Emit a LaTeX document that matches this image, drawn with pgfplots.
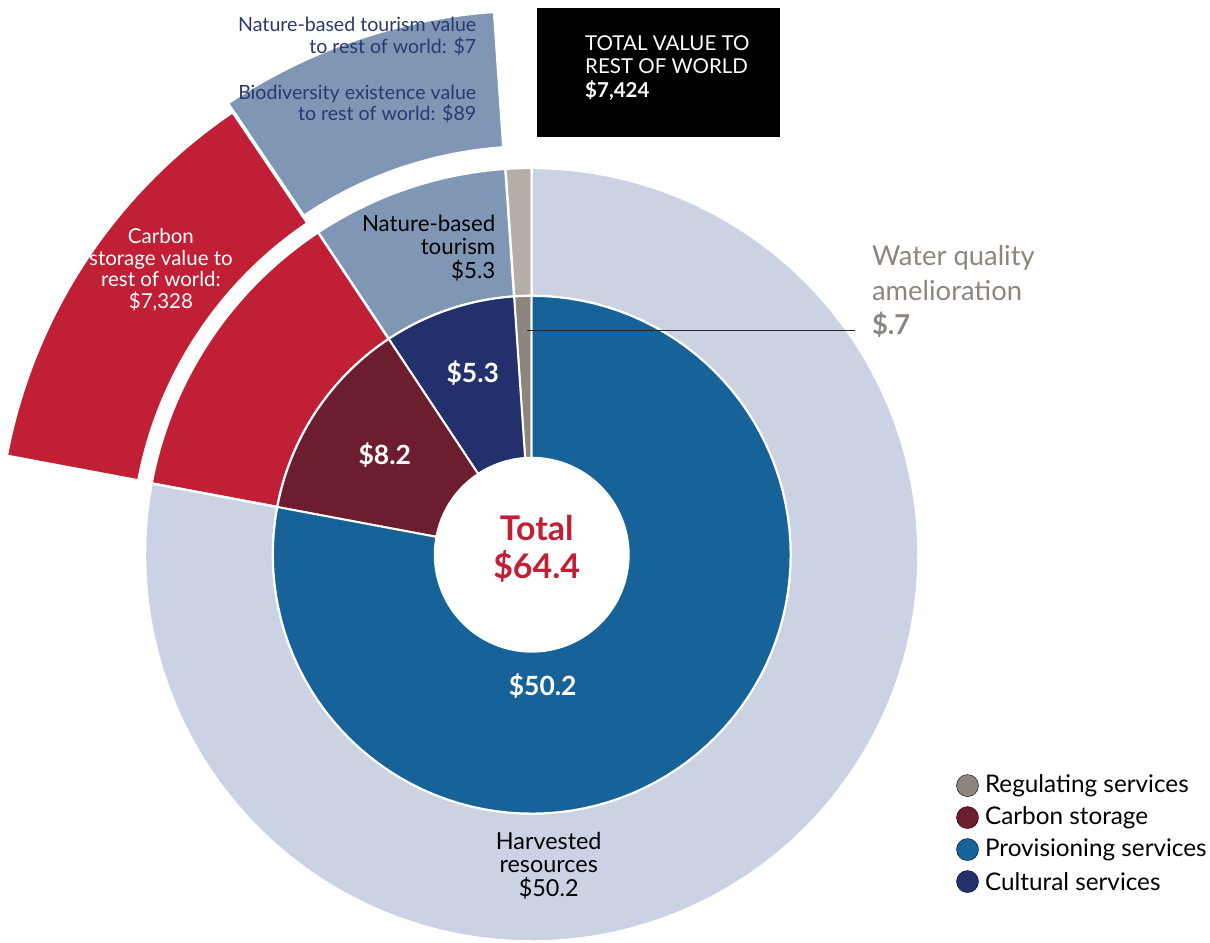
\documentclass[border=0pt]{standalone}
\usepackage{pgfplots}
\pgfplotsset{compat=1.18}
\usepackage{fontspec}
\setmainfont{Lato}
\definecolor{provB}{RGB}{23,98,153}
\definecolor{carbM}{RGB}{108,30,46}
\definecolor{cultN}{RGB}{35,48,107}
\definecolor{regG}{RGB}{140,134,127}
\definecolor{harvL}{RGB}{203,210,228}
\definecolor{carbR}{RGB}{193,31,53}
\definecolor{tourB}{RGB}{127,151,181}
\definecolor{regL}{RGB}{180,174,166}
\definecolor{labN}{RGB}{43,56,110}
% annular sector: #1 start angle, #2 end angle, #3 inner r, #4 outer r, #5 cx, #6 cy, #7 colour, #8 border
\newcommand{\sector}[8]{%
\addplot[fill=#7, draw=white, line width=#8, line join=round, domain=0:4, samples=401, variable=\t]
 ({#5+((\t<1) ? (#4) : ((\t<2) ? ((#4)-((#4)-(#3))*(\t-1)) : ((\t<3) ? (#3) : ((#3)+((#4)-(#3))*(\t-3)))))*cos((\t<1) ? ((#1)+((#2)-(#1))*\t) : ((\t<2) ? (#2) : ((\t<3) ? ((#2)-((#2)-(#1))*(\t-2)) : (#1))))},
  {#6-((\t<1) ? (#4) : ((\t<2) ? ((#4)-((#4)-(#3))*(\t-1)) : ((\t<3) ? (#3) : ((#3)+((#4)-(#3))*(\t-3)))))*sin((\t<1) ? ((#1)+((#2)-(#1))*\t) : ((\t<2) ? (#2) : ((\t<3) ? ((#2)-((#2)-(#1))*(\t-2)) : (#1))))});
}
% values (total 64.4): regulating 0.7, cultural 5.3, carbon 8.2, provisioning 50.2
\def\A#1{(90+360*(#1)/64.4)}
\begin{document}
\begin{tikzpicture}
\begin{axis}[x=1pt, y=1pt, y dir=reverse, xmin=0, xmax=1210, ymin=0, ymax=940,
  hide axis, clip=false, scale only axis]
\addplot[draw=none] coordinates {(0,0) (1210,940)};
% outer ring
\sector{\A{0}}{\A{0.7}}{259}{387}{532}{555}{regL}{2.4pt}
\sector{\A{0.7}}{\A{6.0}}{259}{387}{532}{555}{tourB}{2.4pt}
\sector{\A{6.0}}{\A{14.2}}{259}{387}{532}{555}{carbR}{2.4pt}
\sector{\A{14.2}}{\A{64.4}}{259}{387}{532}{555}{harvL}{2.4pt}
% inner ring
\sector{\A{0}}{\A{0.7}}{97}{259}{532}{555}{regG}{2pt}
\sector{\A{0.7}}{\A{6.0}}{97}{259}{532}{555}{cultN}{2pt}
\sector{\A{6.0}}{\A{14.2}}{97}{259}{532}{555}{carbM}{2pt}
\sector{\A{14.2}}{\A{64.4}}{97}{259}{532}{555}{provB}{2pt}
% exploded pieces: rest of world
\sector{\A{0.7}}{124.0}{408}{545}{532}{555}{tourB}{3.5pt}
\sector{124.0}{\A{14.2}}{400}{535}{532}{555}{carbR}{3.5pt}
% callout line
\addplot[black!85, line width=1pt] coordinates {(527,331) (855,331)};
% legend marks
\addplot[only marks, mark=*, mark size=11pt, mark options={draw=none, fill=regG}] coordinates {(968,786)};
\addplot[only marks, mark=*, mark size=11pt, mark options={draw=none, fill=carbM}] coordinates {(968,818)};
\addplot[only marks, mark=*, mark size=11pt, mark options={draw=none, fill=provB}] coordinates {(968,850)};
\addplot[only marks, mark=*, mark size=11pt, mark options={draw=none, fill=cultN}] coordinates {(968,882)};
\node[anchor=west, font=\fontsize{24.3}{30}\selectfont] at (axis cs:982,786) {Regulating services};
\node[anchor=west, font=\fontsize{24.3}{30}\selectfont] at (axis cs:982,818) {Carbon storage};
\node[anchor=west, font=\fontsize{24.3}{30}\selectfont] at (axis cs:982,850) {Provisioning services};
\node[anchor=west, font=\fontsize{24.3}{30}\selectfont] at (axis cs:982,882) {Cultural services};
% black box
\node[anchor=north west, fill=black, minimum width=243pt, minimum height=129pt, inner sep=0pt] at (axis cs:537,8) {};
\node[anchor=west, align=left, text=white, font=\fontsize{20.5}{23.5}\selectfont] at (axis cs:582,68) {TOTAL VALUE TO\\REST OF WORLD\\\textbf{\$7,424}};
% labels
\node[anchor=east, align=right, text=labN, font=\fontsize{19.6}{22}\selectfont] at (axis cs:480,36) {Nature-based tourism value\\to rest of world: \$7};
\node[anchor=east, align=right, text=labN, font=\fontsize{19.6}{22}\selectfont] at (axis cs:480,104) {Biodiversity existence value\\to rest of world: \$89};
\node[align=center, text=white, font=\fontsize{20.5}{21.5}\selectfont] at (axis cs:161,270) {Carbon\\storage value to\\rest of world:\\\$7,328};
\node[anchor=east, align=right, text=black, font=\fontsize{22.3}{23.5}\selectfont] at (axis cs:499,248) {Nature-based\\tourism\\\$5.3};
\node[anchor=west, align=left, text=regG, font=\fontsize{27.4}{34.5}\selectfont] at (axis cs:869,292) {Water quality\\amelioration\\\textbf{\$.7}};
\node[text=white, font=\bfseries\fontsize{26.5}{28}\selectfont] at (axis cs:473,373) {\$5.3};
\node[text=white, font=\bfseries\fontsize{26.5}{28}\selectfont] at (axis cs:385,455) {\$8.2};
\node[text=white, font=\bfseries\fontsize{26.5}{28}\selectfont] at (axis cs:543,686) {\$50.2};
\node[align=center, text=carbR, font=\bfseries\fontsize{34}{38}\selectfont] at (axis cs:537,549) {Total\\\$64.4};
\node[align=center, text=black, font=\fontsize{23.4}{23.5}\selectfont] at (axis cs:549,866) {Harvested\\resources\\\$50.2};
\end{axis}
\end{tikzpicture}
\end{document}
